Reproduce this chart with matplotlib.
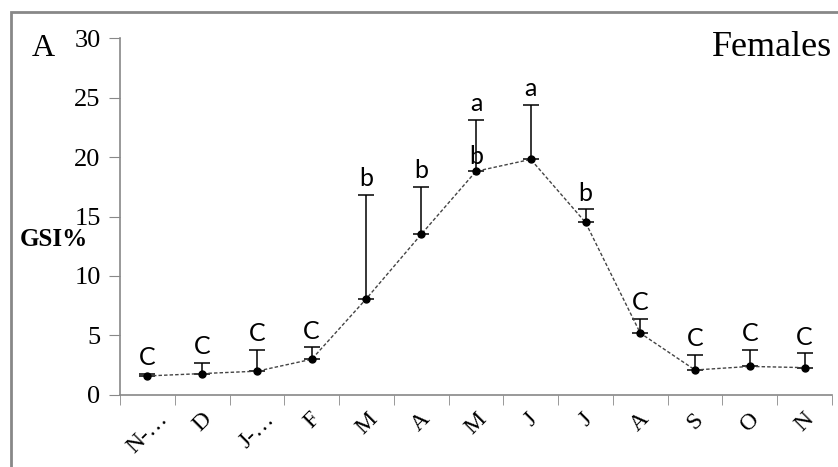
import matplotlib.pyplot as plt
from matplotlib.patches import Rectangle
import numpy as np

# Mois et valeurs GSI% (femelles)
mois = ["N-…", "D", "J-…", "F", "M", "A", "M", "J", "J", "A", "S", "O", "N"]
gsi = [1.6, 1.8, 2.0, 3.0, 8.1, 13.5, 18.8, 19.8, 14.5, 5.2, 2.1, 2.4, 2.3]
gsi_haut = [1.8, 2.7, 3.8, 4.0, 16.8, 17.5, 23.1, 24.4, 15.6, 6.4, 3.4, 3.8, 3.5]
lettres = ["C", "C", "C", "C", "b", "b", "a", "a", "b", "C", "C", "C", "C"]

x = np.arange(len(mois))
err_haut = np.array(gsi_haut) - np.array(gsi)

fig = plt.figure(figsize=(8.38, 4.67), dpi=100)
fig.patches.append(Rectangle((11 / 838, -0.1), 1.2, 1 - 12 / 467 + 0.1,
                             transform=fig.transFigure, fill=False,
                             edgecolor="#888888", linewidth=2))
ax = fig.add_axes([0.1432, 0.1542, 0.8496, 0.7644])

ax.errorbar(x, gsi, yerr=[np.zeros(len(x)), err_haut], fmt="none",
            ecolor="black", elinewidth=1.1, capsize=6, capthick=1.1)
ax.plot(x, gsi, color="#444444", linestyle=(0, (2.5, 1.5)), linewidth=1.0,
        marker="o", markersize=5, markerfacecolor="black",
        markeredgecolor="black")

for xi, top, lab in zip(x, gsi_haut, lettres):
    ax.text(xi, top + 0.4, lab, ha="center", va="bottom",
            fontsize=18, family="Lato")
# lettre "b" du mois de mai, juste au-dessus du point
ax.text(6, gsi[6] + 0.3, "b", ha="center", va="bottom", fontsize=18,
        family="Lato")

ax.set_xlim(-0.5, len(mois) - 0.5)
ax.set_ylim(0, 30)
ax.set_yticks(range(0, 31, 5))
ax.set_xticks(x)
ax.set_xticklabels(mois, rotation=45, ha="center", va="top",
                   family="Liberation Serif", fontsize=17)
ax.set_xticks(np.arange(-0.5, len(mois)), minor=True)
ax.tick_params(axis="x", which="major", length=0, pad=10)
ax.tick_params(axis="x", which="minor", length=7, color="#888888",
               direction="out")
ax.tick_params(axis="y", length=8, color="#888888", direction="out",
               labelsize=19, pad=6)
for lab in ax.get_yticklabels():
    lab.set_family("Liberation Serif")

for s in ["top", "right"]:
    ax.spines[s].set_visible(False)
for s in ["left", "bottom"]:
    ax.spines[s].set_color("#888888")
    ax.spines[s].set_linewidth(1.2)

fig.text(32 / 838, 1 - 49 / 467, "A", fontsize=23, family="Liberation Serif",
         va="center", ha="left")
fig.text(832 / 838, 1 - 48 / 467, "Females", fontsize=26,
         family="Liberation Serif", va="center", ha="right")
fig.text(20 / 838, 1 - 239 / 467, "GSI%", fontsize=18,
         family="Liberation Serif", weight="bold", va="center", ha="left")

fig.savefig("out.png", dpi=100)
